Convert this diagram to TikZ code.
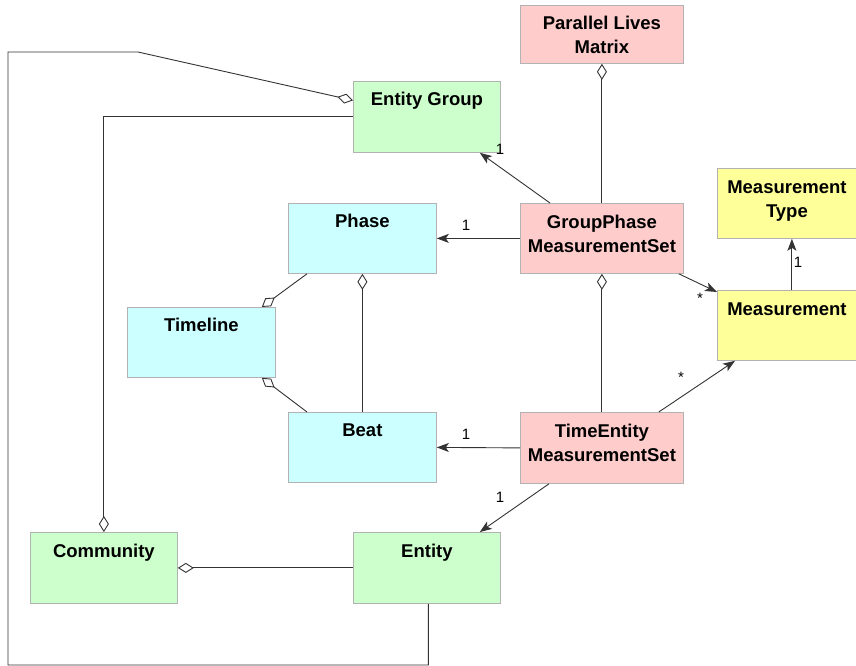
\documentclass[tikz,border=0pt]{standalone}
\usepackage{fontspec}
\setmainfont{Liberation Sans}
\usetikzlibrary{arrows.meta,calc}
\definecolor{pinkc}{HTML}{FFCCCC}
\definecolor{greenc}{HTML}{CCFFCC}
\definecolor{cyanc}{HTML}{CCFFFF}
\definecolor{yellowc}{HTML}{FFFF99}
\definecolor{linec}{HTML}{333333}
\tikzset{
  cls/.style={draw=black!30, line width=0.8pt, inner sep=0pt, anchor=north west, rectangle},
  pinkbox/.style={cls, fill=pinkc, minimum width=163pt, minimum height=70pt},
  greenbox/.style={cls, fill=greenc, minimum width=147pt, minimum height=71pt},
  cyanbox/.style={cls, fill=cyanc, minimum width=148pt, minimum height=70pt},
  yellowbox/.style={cls, fill=yellowc, minimum width=139pt, minimum height=70pt},
  ttl/.style={anchor=base, inner sep=0pt, font=\fontsize{18.5}{20}\selectfont\bfseries},
  mult/.style={inner sep=0pt, font=\fontsize{15}{16}\selectfont},
  conn/.style={draw=linec, line width=0.9pt},
  agg/.style={conn, {Diamond[open, length=16pt, width=10pt]}-},
  nav/.style={conn, -{Stealth[length=12pt, width=9pt, inset=3pt]}},
}
\begin{document}
\begin{tikzpicture}[x=1pt, y=-1pt]
\useasboundingbox (0,0) rectangle (856,666);

% boxes
\node[pinkbox, minimum height=58pt] (plm) at (520,5) {};
\node[greenbox] (eg) at (353,81) {};
\node[pinkbox] (gp) at (520,203) {};
\node[yellowbox] (mt) at (717,168) {};
\node[yellowbox] (ms) at (717,290) {};
\node[cyanbox] (ph) at (288,203) {};
\node[cyanbox] (tl) at (127,307) {};
\node[cyanbox] (bt) at (288,412) {};
\node[pinkbox, minimum height=71pt] (te) at (520,412) {};
\node[greenbox] (cm) at (30,532) {};
\node[greenbox] (en) at (353,532) {};

% titles
\node[ttl] (plm1) at ($(plm.north)+(0,25)$) {Parallel Lives};
\node[ttl] (plm2) at ($(plm.north)+(0,49)$) {Matrix};
\node[ttl] (eg1) at ($(eg.north)+(0,25)$) {Entity Group};
\node[ttl] (gp1) at ($(gp.north)+(0,25)$) {GroupPhase};
\node[ttl] (gp2) at ($(gp.north)+(0,49)$) {MeasurementSet};
\node[ttl] (mt1) at ($(mt.north)+(0,25)$) {Measurement};
\node[ttl] (mt2) at ($(mt.north)+(0,49)$) {Type};
\node[ttl] (ms1) at ($(ms.north)+(0,25)$) {Measurement};
\node[ttl] (ph1) at ($(ph.north)+(0,24)$) {Phase};
\node[ttl] (tl1) at ($(tl.north)+(0,24)$) {Timeline};
\node[ttl] (bt1) at ($(bt.north)+(0,24)$) {Beat};
\node[ttl] (te1) at ($(te.north)+(0,25)$) {TimeEntity};
\node[ttl] (te2) at ($(te.north)+(0,49)$) {MeasurementSet};
\node[ttl] (cm1) at ($(cm.north)+(0,25)$) {Community};
\node[ttl] (en1) at ($(en.north)+(0,25)$) {Entity};

% aggregations
\draw[agg] (plm.south) -- (gp.north);
\draw[agg] (gp.south) -- (te.north);
\draw[agg] (ph.south) -- (bt.north);
\draw[agg] ([xshift=-14pt]tl.north east) -- ([xshift=19pt]ph.south west);
\draw[agg] ([xshift=-14pt]tl.south east) -- ([xshift=19pt]bt.north west);
\draw[agg] (cm.east) -- (en.west);
\draw[agg] (cm.north) |- (eg.west);
\coordinate (k1) at (138,52);
\coordinate (k2) at (8,52);
\coordinate (k3) at (8,665);
\draw[agg] ([yshift=16.5pt]eg.west) -- (k1) -- (k2) -- (k3) -| ([xshift=1.5pt]en.south);

% navigable associations
\draw[nav] ([xshift=30pt]gp.north west) -- ([xshift=-21pt]eg.south east);
\draw[nav] (gp.west) -- (ph.east);
\draw[nav] ([xshift=-5pt]gp.south east) -- ([yshift=-2pt]ms.north west);
\draw[nav] ([xshift=5pt]ms.north) -- ([xshift=5pt]mt.south);
\draw[nav] (te.west) -- (bt.east);
\draw[nav] ([xshift=-25pt]te.north east) -- ([xshift=18pt]ms.south west);
\draw[nav] ([xshift=29pt]te.south west) -- ([xshift=-21pt]en.north east);

% multiplicities
\node[mult] (m1) at (500,149) {1};
\node[mult] (m2) at (466,225) {1};
\node[mult] (m3) at (700,298) {*};
\node[mult] (m4) at (798,262) {1};
\node[mult] (m5) at (466,434) {1};
\node[mult] (m6) at (681,377) {*};
\node[mult] (m7) at (500,497) {1};
\end{tikzpicture}
\end{document}
